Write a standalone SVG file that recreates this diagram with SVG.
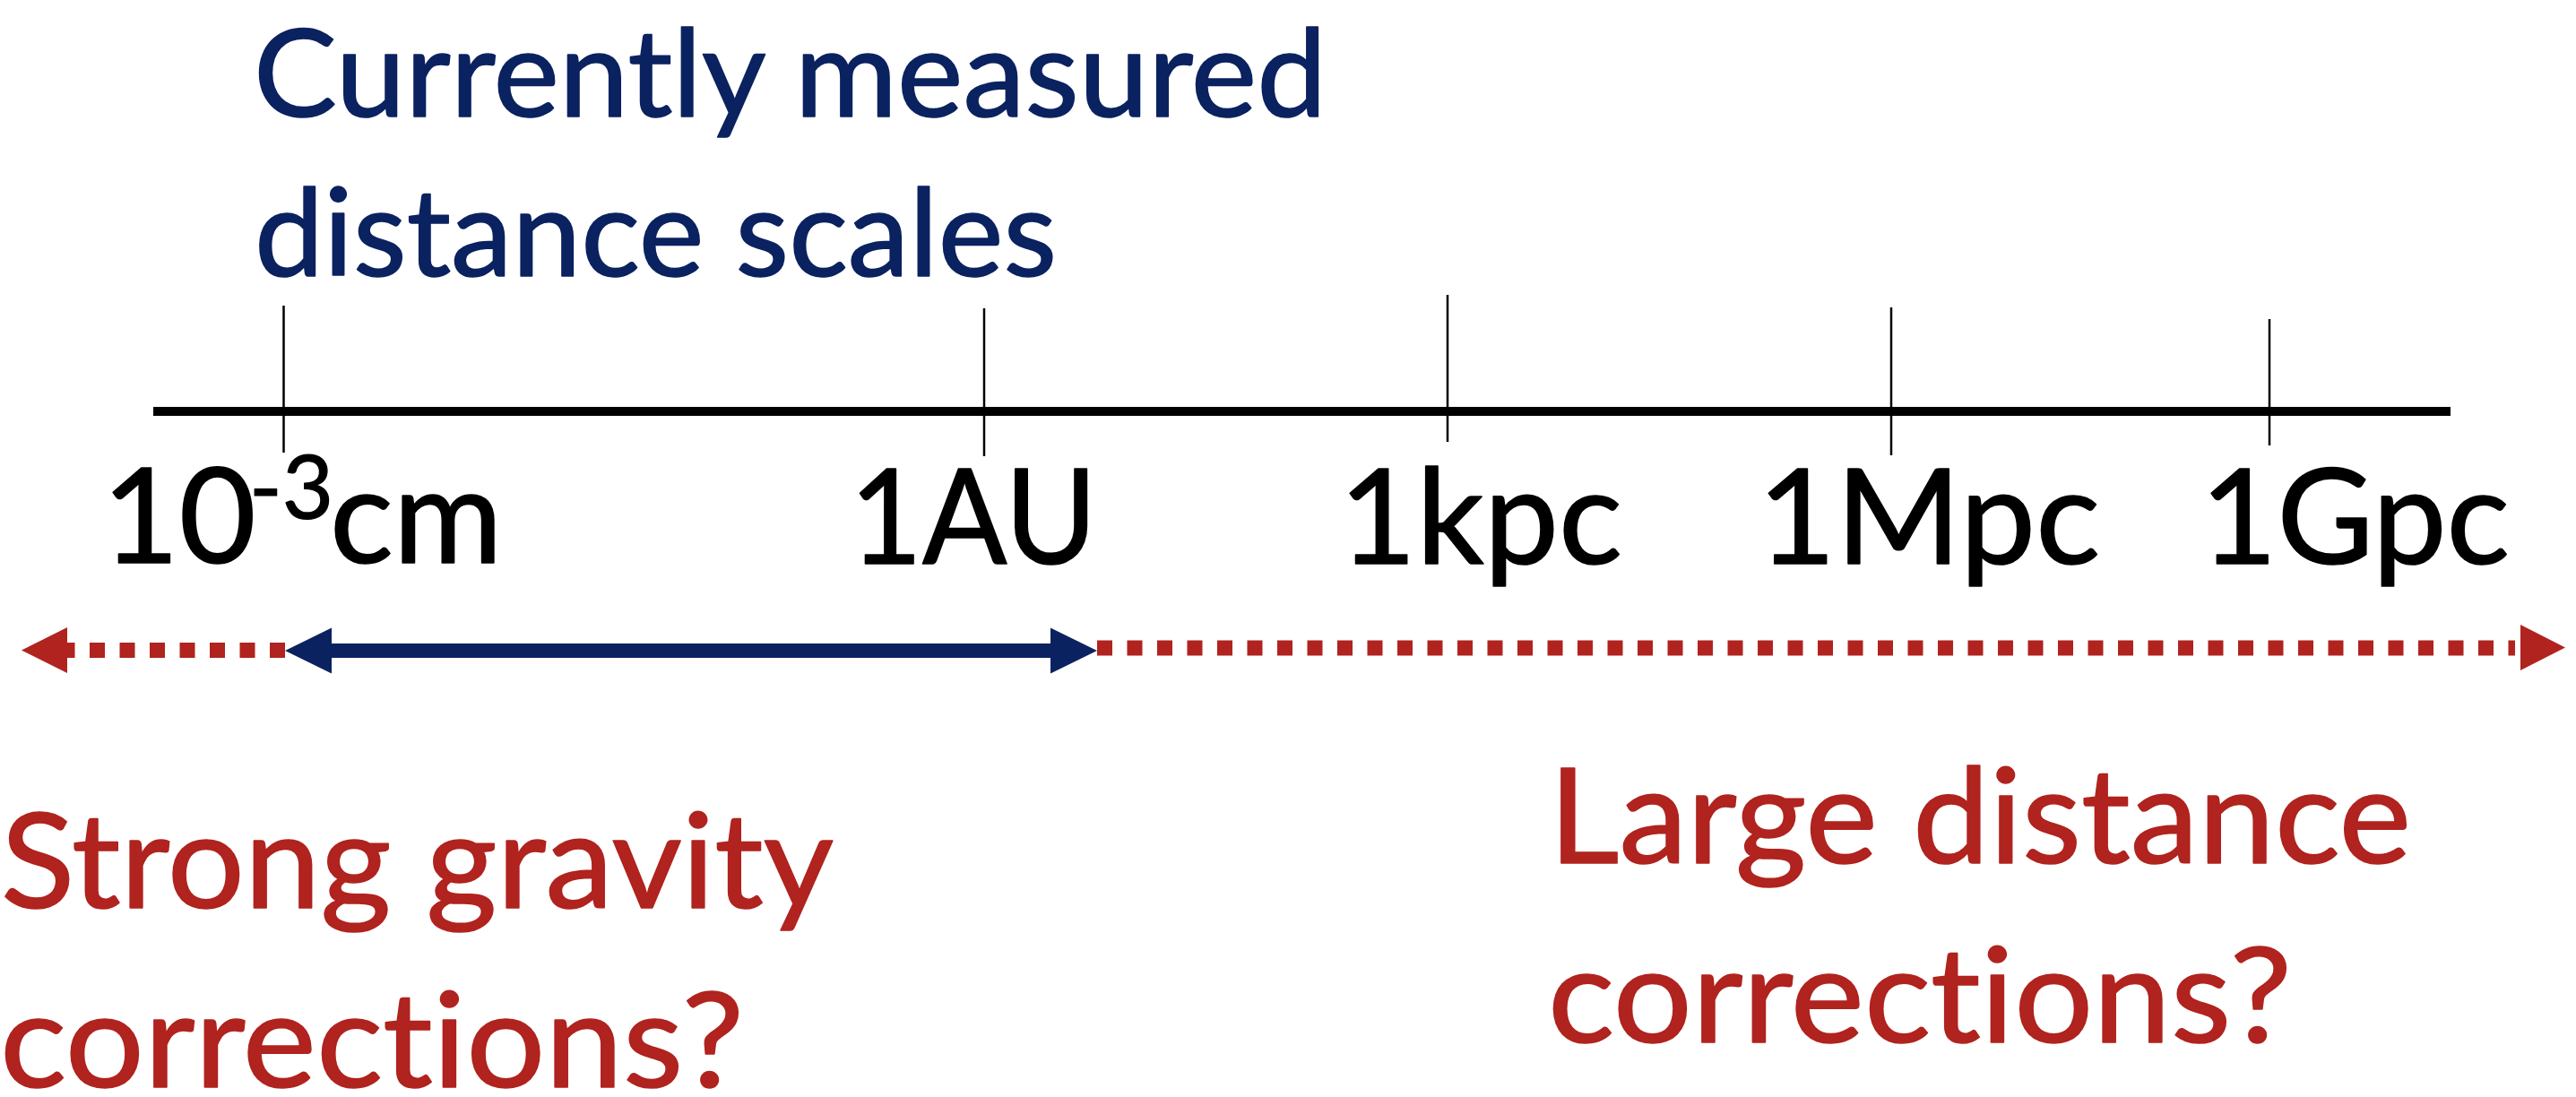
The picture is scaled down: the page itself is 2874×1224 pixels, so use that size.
<svg xmlns="http://www.w3.org/2000/svg" width="2874" height="1224" viewBox="0 0 2874 1224">
<style>
.bg{fill:#ffffff}
text{font-family:Lato,"Carlito","Open Sans",sans-serif;font-variant-ligatures:none;font-feature-settings:"liga" 0,"dlig" 0;stroke-linejoin:round}
.title{font-size:135px;fill:#0B2260;stroke:#0B2260;stroke-width:1.6}
.lbl{font-size:148px;fill:#000000;stroke:#000;stroke-width:1.6}
.sup{font-size:99px;stroke-width:1.2}
.red{font-size:148px;fill:#B0231E;stroke:#B0231E;stroke-width:1.6}
.axis{stroke:#000;stroke-width:10;fill:none}
.tick{stroke:#000;stroke-width:2.5;fill:none}
.dot{stroke:#B0231E;stroke-width:17;stroke-dasharray:17 16.5;fill:none}
.solid{stroke:#0B2260;stroke-width:16;fill:none}
.rhead{fill:#B0231E}
.bhead{fill:#0B2260}
</style>
<rect class="bg" x="0" y="0" width="2874" height="1224"/>
<g id="title">
<text class="title" x="283" y="130" textLength="1197" lengthAdjust="spacingAndGlyphs">Currently measured</text>
<text class="title" x="284" y="308" textLength="895" lengthAdjust="spacingAndGlyphs">distance scales</text>
</g>
<g id="axis">
<line class="axis" x1="171" y1="459" x2="2734" y2="459"/>
<line class="tick" x1="316.5" y1="341" x2="316.5" y2="505"/>
<line class="tick" x1="1098" y1="344" x2="1098" y2="509"/>
<line class="tick" x1="1615" y1="329" x2="1615" y2="493"/>
<line class="tick" x1="2110" y1="343" x2="2110" y2="508"/>
<line class="tick" x1="2532" y1="356" x2="2532" y2="497"/>
</g>
<g id="label-cm">
<text class="lbl" x="114" y="628">10<tspan class="sup" x="278" y="579">-3</tspan><tspan x="368" y="628">cm</tspan></text>
</g>
<g id="label-au"><text class="lbl" x="948" y="629" textLength="276" lengthAdjust="spacingAndGlyphs">1AU</text></g>
<g id="label-kpc"><text class="lbl" x="1494" y="629" textLength="316" lengthAdjust="spacingAndGlyphs">1kpc</text></g>
<g id="label-mpc"><text class="lbl" x="1961" y="629" textLength="382" lengthAdjust="spacingAndGlyphs">1Mpc</text></g>
<g id="label-gpc"><text class="lbl" x="2455" y="629" textLength="345" lengthAdjust="spacingAndGlyphs">1Gpc</text></g>
<g id="connectors">
<line class="dot" x1="318" y1="725.5" x2="75" y2="725.5"/>
<polygon class="rhead" points="24,725.5 75,700 75,751"/>
<line class="solid" x1="368" y1="726" x2="1174" y2="726"/>
<polygon class="bhead" points="318,726 370,700.5 370,751.5"/>
<polygon class="bhead" points="1224,726 1172,700.5 1172,751.5"/>
<line class="dot" x1="1224" y1="723" x2="2806" y2="723"/>
<polygon class="rhead" points="2812,697 2812,748 2862,722.5"/>
</g>
<g id="strong-gravity">
<text class="red" x="1" y="1013" textLength="929" lengthAdjust="spacingAndGlyphs">Strong gravity</text>
<text class="red" x="0" y="1213" textLength="830" lengthAdjust="spacingAndGlyphs">corrections?</text>
</g>
<g id="large-distance">
<text class="red" x="1728" y="963" textLength="962" lengthAdjust="spacingAndGlyphs">Large distance</text>
<text class="red" x="1727" y="1163" textLength="830" lengthAdjust="spacingAndGlyphs">corrections?</text>
</g>
</svg>
